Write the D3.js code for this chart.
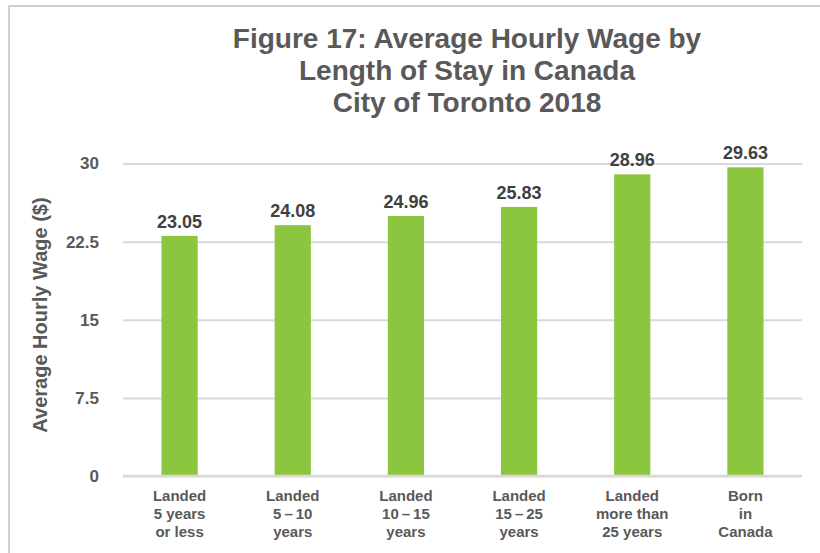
<!DOCTYPE html>
<html lang="en">
<head>
  <meta charset="UTF-8">
  <title>Average Hourly Wage by Length of Stay</title>
  <style>
    body { margin: 0; background: #fff; }
    text { font-family: "Liberation Sans", Arial, Helvetica, sans-serif; font-weight: bold; fill: #595959; }
  </style>
</head>
<body>
<div id="chart"></div>
<script src="https://cdn.jsdelivr.net/npm/d3@7"></script>
<script>
// data
let categories = [
  ['Landed', '5 years', 'or less'],
  ['Landed', '5\u2009–\u200910', 'years'],
  ['Landed', '10\u2009–\u200915', 'years'],
  ['Landed', '15\u2009–\u200925', 'years'],
  ['Landed', 'more than', '25 years'],
  ['Born', 'in', 'Canada']
]
let wages = [23.05, 24.08, 24.96, 25.83, 28.96, 29.63]
let yTicks = [0, 7.5, 15, 22.5, 30]
let titleLines = ['Figure 17: Average Hourly Wage by', 'Length of Stay in Canada', 'City of Toronto 2018']
let ytitle = 'Average Hourly Wage ($)'

let width = 820
let height = 553
let barColor = '#8cc63f'
let gridColor = '#d9d9d9'

let svg = d3.select('#chart').append('svg').attr('width', width).attr('height', height)

// outer frame (right and bottom edges fall outside the picture)
svg.append('rect')
  .attr('x', 9).attr('y', 6).attr('width', 900).attr('height', 700)
  .attr('fill', 'none').attr('stroke', '#d0d0d0').attr('stroke-width', 2)

// scales
let x = d3.scaleBand().domain(d3.range(wages.length)).range([123, 802]).paddingInner(0.68).paddingOuter(0.34)
let y = d3.scaleLinear().domain([0, 30]).range([476, 163.5])

// grid lines + y tick labels
let yAxis = d3.axisLeft(y).tickValues(yTicks).tickSize(0).tickPadding(24).tickFormat(d => d)
let gy = svg.append('g').attr('transform', 'translate(123,0)').call(yAxis)
gy.select('.domain').remove()
gy.selectAll('.tick text').style('font-size', '17px').attr('fill', '#595959')
gy.selectAll('.tick').append('line')
  .attr('x1', 0).attr('x2', 802 - 123)
  .attr('stroke', gridColor).attr('stroke-width', 2)

// bars
svg.append('g').selectAll('rect').data(wages).join('rect')
  .attr('x', (d, i) => x(i))
  .attr('y', d => y(d))
  .attr('width', x.bandwidth())
  .attr('height', d => y(0) - y(d))
  .attr('fill', barColor)

// value labels
svg.append('g').selectAll('text').data(wages).join('text')
  .attr('x', (d, i) => x(i) + x.bandwidth() / 2)
  .attr('y', d => y(d) - 8)
  .attr('text-anchor', 'middle')
  .style('font-size', '18px')
  .style('fill', '#404040')
  .text(d => d.toFixed(2))

// x axis line
svg.append('line').attr('x1', 123).attr('x2', 802).attr('y1', y(0)).attr('y2', y(0))
  .attr('stroke', gridColor).attr('stroke-width', 2.5)

// category labels
let xl = svg.append('g').selectAll('text').data(categories).join('text')
  .attr('text-anchor', 'middle')
  .style('font-size', '15px')
xl.each(function (lines, i) {
  d3.select(this).selectAll('tspan').data(lines).join('tspan')
    .attr('x', x(i) + x.bandwidth() / 2)
    .attr('y', (d, j) => 501 + j * 18)
    .text(d => d)
})

// title
svg.append('g').selectAll('text').data(titleLines).join('text')
  .attr('x', 467)
  .attr('y', (d, i) => 48 + i * 32)
  .attr('text-anchor', 'middle')
  .style('font-size', '28px')
  .text(d => d)

// y axis title
svg.append('text')
  .attr('transform', 'translate(47,315) rotate(-90)')
  .attr('text-anchor', 'middle')
  .style('font-size', '20px')
  .text(ytitle)
</script>
</body>
</html>
